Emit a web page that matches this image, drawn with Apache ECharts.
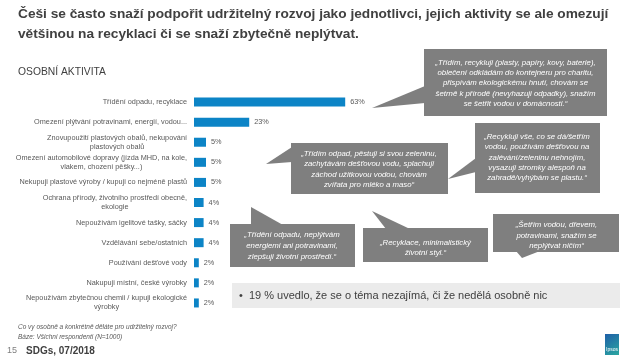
<!DOCTYPE html>
<html><head><meta charset="utf-8">
<script src="https://cdn.jsdelivr.net/npm/echarts@6/dist/echarts.min.js"></script>
<style>html,body{margin:0;padding:0;background:#fff}#c{width:638px;height:359px}</style>
</head><body><div id="c"></div>
<script>
const categories = [
  "Třídění odpadu, recyklace",
  "Omezení plýtvání potravinami, energií, vodou...",
  "Znovupoužití plastových obalů, nekupování\nplastových obalů",
  "Omezení automobilové dopravy (jízda MHD, na kole,\nvlakem, chození pěšky...)",
  "Nekupuji plastové výroby / kupuji co nejméně plastů",
  "Ochrana přírody, životního prostředí obecně,\nekologie",
  "Nepoužívám igelitové tašky, sáčky",
  "Vzdělávání sebe/ostatních",
  "Používání dešťové vody",
  "Nakupuji místní, české výrobky",
  "Nepoužívám zbytečnou chemii / kupuji ekologické\nvýrobky"
];
const values = [63, 23, 5, 5, 5, 4, 4, 4, 2, 2, 2];

const titleLines = [
  "Češi se často snaží podpořit udržitelný rozvoj jako jednotlivci, jejich aktivity se ale omezují",
  "většinou na recyklaci či se snaží zbytečně neplýtvat."
];
const sectionTitle = "OSOBNÍ AKTIVITA";
const quotes = [
  "„Třídím, recykluji (plasty, papíry, kovy, baterie),\noblečení odkládám do kontejneru pro charitu,\npřispívám ekologickému hnutí, chovám se\nšetrně k přírodě (nevyhazuji odpadky), snažím\nse šetřit vodou v domácnosti.“",
  "„Třídím odpad, pěstuji si svou zeleninu,\nzachytávám dešťovou vodu, splachuji\nzáchod užitkovou vodou, chovám\nzvířata pro mléko a maso“",
  "„Recykluji vše, co se dá/šetřím\nvodou, používám dešťovou na\nzalévání/zeleninu nehnojím,\nvysazuji stromky alespoň na\nzahradě/vyhýbám se plastu.“",
  "„Třídění odpadu, neplýtvám\nenergiemi ani potravinami,\nzlepšuji životní prostředí.“",
  "„Recyklace, minimalistický\nživotní styl.“",
  "„Šetřím vodou, dřevem,\npotravinami, snažím se\nneplýtvat ničím“"
];
const noteText = "•  19 % uvedlo, že se o téma nezajímá, či že nedělá osobně nic";
const footnotes = ["Co vy osobně a konkrétně děláte pro udržitelný rozvoj?", "Báze: Všichni respondenti (N=1000)"];
const pageNo = "15";
const footerText = "SDGs, 07/2018";

const FF = '"Liberation Sans", Arial, sans-serif';
const boxFill = '#7f7f7f';

const callouts = [
  {box:[424,49,183,67], ptr:[[425,86],[425,103],[372,108]], cx:515.5, cy:83.3, lh:10.3},
  {box:[291,143,157,51], ptr:[[292,147],[292,162],[266,164]], cx:369, cy:169.2, lh:10.3},
  {box:[475,123,125,70], ptr:[[476,158],[476,172],[448,179]], cx:537, cy:157.5, lh:10.3},
  {box:[230,224,125,43], ptr:[[251,207],[251,225],[283,225]], cx:292, cy:245.8, lh:10.6},
  {box:[363,228,125,34], ptr:[[372,211],[386,229],[410,229]], cx:425.5, cy:247.7, lh:10},
  {box:[493,214,126,38], ptr:[[516,251],[540,251],[522,258]], cx:556.5, cy:235.5, lh:10.4}
];

const graphics = [];
titleLines.forEach((t,i)=>graphics.push({type:'text', style:{text:t, x:18, y:14+i*20.5, verticalAlign:'middle', font:'bold 13.7px '+FF, fill:'#404040'}}));
graphics.push({type:'text', style:{text:sectionTitle, x:18, y:72, verticalAlign:'middle', font:'10.3px '+FF, fill:'#404040'}});
callouts.forEach((c,i)=>{
  graphics.push({type:'rect', shape:{x:c.box[0], y:c.box[1], width:c.box[2], height:c.box[3]}, style:{fill:boxFill}});
  graphics.push({type:'polygon', shape:{points:c.ptr}, style:{fill:boxFill}});
  graphics.push({type:'text', style:{text:quotes[i], x:c.cx, y:c.cy, align:'center', verticalAlign:'middle', lineHeight:c.lh, font:'italic 7.8px '+FF, fill:'#ffffff'}});
});
graphics.push({type:'rect', shape:{x:232, y:283, width:388, height:25}, style:{fill:'#ebebeb'}});
graphics.push({type:'text', style:{text:noteText, x:239, y:295.5, verticalAlign:'middle', font:'11px '+FF, fill:'#404040'}});
footnotes.forEach((t,i)=>graphics.push({type:'text', style:{text:t, x:18, y:327+i*10, verticalAlign:'middle', font:'italic 6.5px '+FF, fill:'#595959'}}));
graphics.push({type:'text', style:{text:pageNo, x:7, y:351, verticalAlign:'middle', font:'9px '+FF, fill:'#7f7f7f'}});
graphics.push({type:'text', style:{text:footerText, x:26, y:351, verticalAlign:'middle', font:'bold 10px '+FF, fill:'#404040'}});
graphics.push({type:'rect', shape:{x:605, y:334, width:14, height:21}, style:{fill:new echarts.graphic.LinearGradient(0,0,1,1,[{offset:0,color:'#1f5fa8'},{offset:1,color:'#2aa7a0'}])}});
graphics.push({type:'text', style:{text:'Ipsos', x:612, y:350, align:'center', verticalAlign:'middle', font:'5px '+FF, fill:'#ffffff'}});

const chart = echarts.init(document.getElementById('c'), null, {renderer:'canvas'});
chart.setOption({
  animation:false,
  grid:{left:194, right:204, top:92, bottom:46},
  xAxis:{type:'value', min:0, max:100, show:false},
  yAxis:{type:'category', data:categories, inverse:true,
    axisLine:{show:false}, axisTick:{show:false},
    axisLabel:{margin:7, fontFamily:FF, fontSize:7.3, color:'#595959',
      formatter:v=>v.split('\n').map(s=>'{c|'+s+'}').join('\n'),
      rich:{c:{align:'center', fontFamily:FF, fontSize:7.3, color:'#595959', lineHeight:9}}}},
  series:[{type:'bar', data:values, barWidth:9, itemStyle:{color:'#0c84c6'},
    label:{show:true, position:'right', distance:5, formatter:'{c}%', fontFamily:FF, fontSize:7.3, color:'#595959'}}],
  graphic:graphics
});
</script></body></html>
